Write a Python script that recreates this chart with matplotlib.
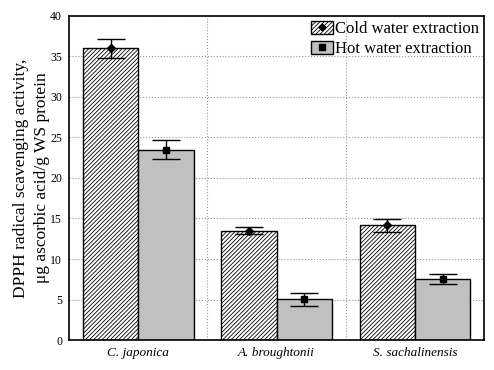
import matplotlib
matplotlib.use("Agg")
import matplotlib.pyplot as plt
from matplotlib.lines import Line2D
import numpy as np

categories = ["C. japonica", "A. broughtonii", "S. sachalinensis"]
cold_values = [36.0, 13.5, 14.15]
cold_err = [1.2, 0.4, 0.8]
hot_values = [23.5, 5.05, 7.55]
hot_err = [1.15, 0.8, 0.65]
yticks = [0, 5, 10, 15, 20, 25, 30, 35, 40]

plt.rcParams['font.family'] = ['Liberation Serif', 'DejaVu Serif']
plt.rcParams['hatch.linewidth'] = 0.6

fig = plt.figure(figsize=(4.94, 3.70), dpi=100)
ax = fig.add_axes([0.1397, 0.081, 0.8403, 0.876])

x = np.arange(len(categories))
w = 0.4
b1 = ax.bar(x - w/2, cold_values, w, color='white', edgecolor='black', hatch='////////',
            linewidth=1.0, zorder=2)
b2 = ax.bar(x + w/2, hot_values, w, color='#c0c0c0', edgecolor='black',
            linewidth=1.0, zorder=2)
ax.errorbar(x - w/2, cold_values, yerr=cold_err, fmt='D', color='black', ms=4,
            capsize=10, elinewidth=1, capthick=1, zorder=3)
ax.errorbar(x + w/2, hot_values, yerr=hot_err, fmt='s', color='black', ms=5,
            capsize=10, elinewidth=1, capthick=1, zorder=3)

ax.set_xlim(-0.5, 2.5)
ax.set_ylim(0, 40)
ax.set_yticks(yticks)
ax.set_yticklabels([str(t) for t in yticks], fontsize=8.5)
ax.set_xticks(x)
ax.set_xticklabels(categories, fontsize=9.5, style='italic')
ax.tick_params(axis='both', length=0, pad=5)
ax.set_xticks([0.5, 1.5], minor=True)
ax.tick_params(axis='x', which='minor', length=0)
ax.yaxis.grid(True, linestyle=':', color='#999999', linewidth=0.8, zorder=0)
ax.xaxis.grid(True, which='minor', linestyle=':', color='#999999', linewidth=0.8, zorder=0)
ax.set_axisbelow(True)
for s in ax.spines.values():
    s.set_linewidth(1.2)

ax.set_ylabel("DPPH radical scavenging activity,\nμg ascorbic acid/g WS protein",
              fontsize=12.5, labelpad=0, linespacing=1.45)

m1 = Line2D([], [], marker='D', color='black', ms=3.5, linestyle='none')
m2 = Line2D([], [], marker='s', color='black', ms=4, linestyle='none')
leg = ax.legend([(b1[0], m1), (b2[0], m2)],
                ['Cold water extraction', 'Hot water extraction'],
                loc='upper right', frameon=False, fontsize=12,
                handlelength=1.3, handleheight=0.8, handletextpad=0.15,
                borderaxespad=0.1, labelspacing=0.25, borderpad=0.2)

fig.savefig("out.png", dpi=100)
